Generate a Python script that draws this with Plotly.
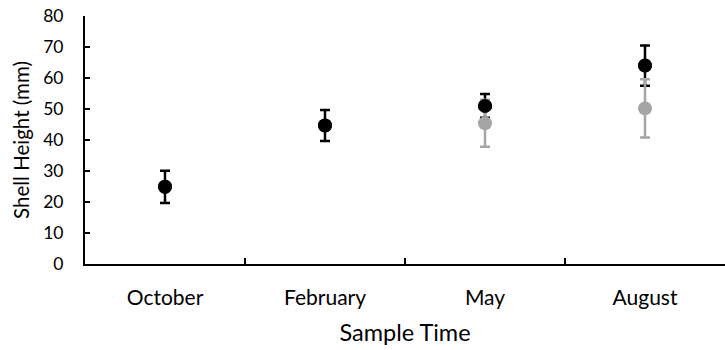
import plotly.graph_objects as go

# Sampling months
months = ["October", "February", "May", "August"]

# Mean shell height (mm) and error for the first group (black)
group_a_mean = [24.9, 44.7, 51.0, 64.0]
group_a_err = [5.2, 5.0, 3.8, 6.5]

# Second group (grey), only sampled in May and August
group_b_months = ["May", "August"]
group_b_mean = [45.4, 50.2]
group_b_err = [7.6, 9.4]

BLACK = "#000000"
GREY = "#A5A5A5"
FONT = "Lato, Open Sans, sans-serif"

fig = go.Figure()

# black error bars (markers drawn again on top later)
fig.add_trace(go.Scatter(
    x=months, y=group_a_mean, mode="markers",
    marker=dict(color=BLACK, size=14),
    error_y=dict(type="data", array=group_a_err, color=BLACK,
                 thickness=2.5, width=5),
    showlegend=False, hoverinfo="skip",
))

# grey series with its error bars
fig.add_trace(go.Scatter(
    x=group_b_months, y=group_b_mean, mode="markers",
    marker=dict(color=GREY, size=14),
    error_y=dict(type="data", array=group_b_err, color=GREY,
                 thickness=2.5, width=5),
    showlegend=False,
))

# black markers on top
fig.add_trace(go.Scatter(
    x=months, y=group_a_mean, mode="markers",
    marker=dict(color=BLACK, size=14),
    showlegend=False,
))

fig.update_layout(
    width=725, height=350, autosize=False,
    margin=dict(l=85, r=0, t=16, b=86),
    paper_bgcolor="white", plot_bgcolor="white",
    font=dict(family=FONT, color="#000000", size=16),
    xaxis=dict(
        type="category", categoryorder="array", categoryarray=months,
        range=[-0.5, 3.5],
        showline=True, linecolor=BLACK, linewidth=2,
        ticks="inside", tickson="boundaries", ticklen=6, tickwidth=2,
        tickcolor=BLACK, showgrid=False, zeroline=False,
        ticklabelstandoff=14,
        tickfont=dict(size=21),
        title=dict(text="Sample Time", font=dict(size=23.5), standoff=16),
    ),
    yaxis=dict(
        range=[0, 80], dtick=10,
        showline=True, linecolor=BLACK, linewidth=2,
        ticks="inside", ticklen=5, tickwidth=2, tickcolor=BLACK,
        showgrid=False, zeroline=False,
        ticklabelstandoff=16,
        tickfont=dict(size=17.5),
    ),
    annotations=[dict(
        text="Shell Height (mm)", textangle=-90,
        xref="paper", yref="paper", x=0, y=0.5,
        xanchor="center", yanchor="middle", xshift=-64,
        showarrow=False, font=dict(size=20.5),
    )],
)

fig.write_html("out.html")
